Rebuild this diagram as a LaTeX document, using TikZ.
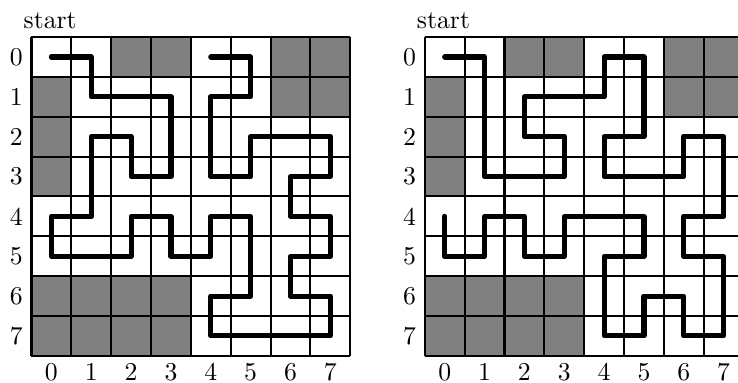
\documentclass[tikz,border=0pt]{standalone}
\usepackage{tikz}
\usetikzlibrary{positioning}
\definecolor{cWall}{gray}{0.5}
\tikzset{
  wall/.style ={fill=cWall},
  cell/.style ={draw=black,line width=0.8pt},
  route/.style={draw=black,line width=2pt,line join=round,line cap=round},
  idx/.style  ={inner sep=0pt},
  tag/.style  ={inner sep=0pt,anchor=base},
}

\begin{document}
\begin{tikzpicture}[x=15.5pt,y=-15.5pt]
\useasboundingbox (-0.79,-0.93) rectangle (17.73,8.66);

% two boards with the same walls
\foreach \s/\dx in {a/0,b/9.87}{
  \begin{scope}[shift={(\dx,0)}]
    \foreach \c/\r in {2/0,3/0,6/0,7/0,0/1,6/1,7/1,0/2,0/3,
                       0/6,1/6,2/6,3/6,0/7,1/7,2/7,3/7}
      {\fill[wall] (\c,\r) rectangle ++(1,1);}
    \foreach \k in {0,...,8}{
      \draw[cell] (\k,0) -- (\k,8);
      \draw[cell] (0,\k) -- (8,\k);
    }
    \node[tag] (\s-start) at (0.47,-0.22) {start};
    \foreach \i in {0,...,7}{
      \node[idx] (\s-r\i) at (-0.38,\i+0.5) {\i};
      \node[idx] (\s-c\i) at (\i+0.5,8.4) {\i};
    }
  \end{scope}
}

\begin{scope}[shift={(0.5,0.5)}]
\draw[route] (0,0) -- (1,0) -- (1,1) -- (3,1) -- (3,3) -- (2,3) -- (2,2) -- (1,2)
  -- (1,4) -- (0,4) -- (0,5) -- (2,5) -- (2,4) -- (3,4) -- (3,5) -- (4,5) -- (4,4)
  -- (5,4) -- (5,6) -- (4,6) -- (4,7) -- (7,7) -- (7,6) -- (6,6) -- (6,5) -- (7,5)
  -- (7,4) -- (6,4) -- (6,3) -- (7,3) -- (7,2) -- (5,2) -- (5,3) -- (4,3) -- (4,1)
  -- (5,1) -- (5,0) -- (4,0);
\end{scope}

\begin{scope}[shift={(10.37,0.5)}]
\draw[route] (0,0) -- (1,0) -- (1,3) -- (3,3) -- (3,2) -- (2,2) -- (2,1) -- (4,1)
  -- (4,0) -- (5,0) -- (5,2) -- (4,2) -- (4,3) -- (6,3) -- (6,2) -- (7,2) -- (7,4)
  -- (6,4) -- (6,5) -- (7,5) -- (7,7) -- (6,7) -- (6,6) -- (5,6) -- (5,7) -- (4,7)
  -- (4,5) -- (5,5) -- (5,4) -- (3,4) -- (3,5) -- (2,5) -- (2,4) -- (1,4) -- (1,5)
  -- (0,5) -- (0,4);
\end{scope}
\end{tikzpicture}
\end{document}
